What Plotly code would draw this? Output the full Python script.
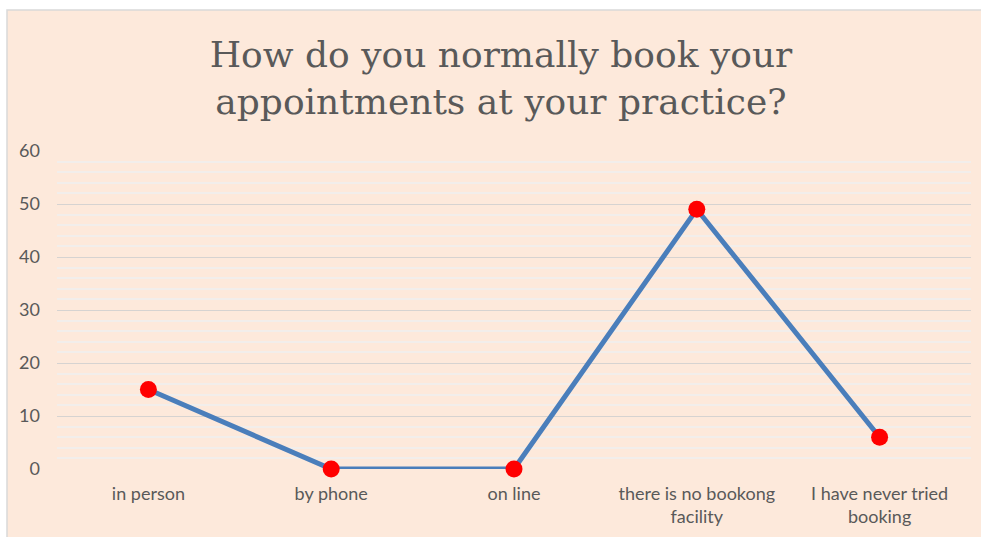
import plotly.graph_objects as go

categories = ["in person", "by phone", "on line", "there is no bookong<br>facility", "I have never tried<br>booking"]
values = [15, 0, 0, 49, 6]
title_text = "How do you normally book your<br>appointments at your practice?"

PEACH = "#FDE9DB"
TEXT = "#595959"

fig = go.Figure()
fig.add_trace(go.Scatter(
    x=categories, y=values, mode="lines+markers",
    line=dict(color="#4A7EBB", width=5),
    marker=dict(color="#FF0000", size=17),
    cliponaxis=False,
))

L, R, T, B = 57, 10, 151, 66
W, H = 981, 537
pw = W - L - R
ph = H - T - B

fig.add_shape(type="rect", xref="paper", yref="paper", layer="below",
              x0=(7 - L) / pw, x1=(W + 5 - L) / pw,
              y0=-(B + 40) / ph, y1=(H - B - 9) / ph,
              fillcolor=PEACH, line=dict(color="#D9D9D9", width=1.5))

fig.update_layout(
    width=W, height=H,
    margin=dict(l=L, r=R, t=T, b=B),
    paper_bgcolor="white", plot_bgcolor=PEACH,
    showlegend=False,
    title=dict(text=title_text, x=501 / W, xanchor="center", y=1 - 67 / H, yanchor="middle",
               yref="container",
               font=dict(family="DejaVu Serif, Liberation Serif, serif", size=36, color=TEXT)),
    font=dict(family="Lato, Liberation Sans, sans-serif", size=18, color=TEXT),
)
fig.update_xaxes(range=[-0.5, 4.5], showgrid=False, zeroline=False, showline=False,
                 ticks="", ticklabelstandoff=12, tickfont=dict(size=18, color=TEXT))
fig.update_yaxes(range=[0, 60], dtick=10, showgrid=True, gridcolor="#D6D3D1", gridwidth=1.2,
                 zeroline=False, showline=False, ticks="", ticklabelstandoff=16,
                 minor=dict(dtick=2, showgrid=True, gridcolor="#F2EEEB", gridwidth=1.5),
                 tickfont=dict(size=18, color=TEXT))

fig.write_html(
    "out.html", config={"displayModeBar": False},
    post_script=("document.documentElement.style.margin='0';document.documentElement.style.overflow='hidden';"
                 "document.body.style.margin='0';document.body.style.padding='0';"
                 "document.body.style.overflow='hidden';"),
)
